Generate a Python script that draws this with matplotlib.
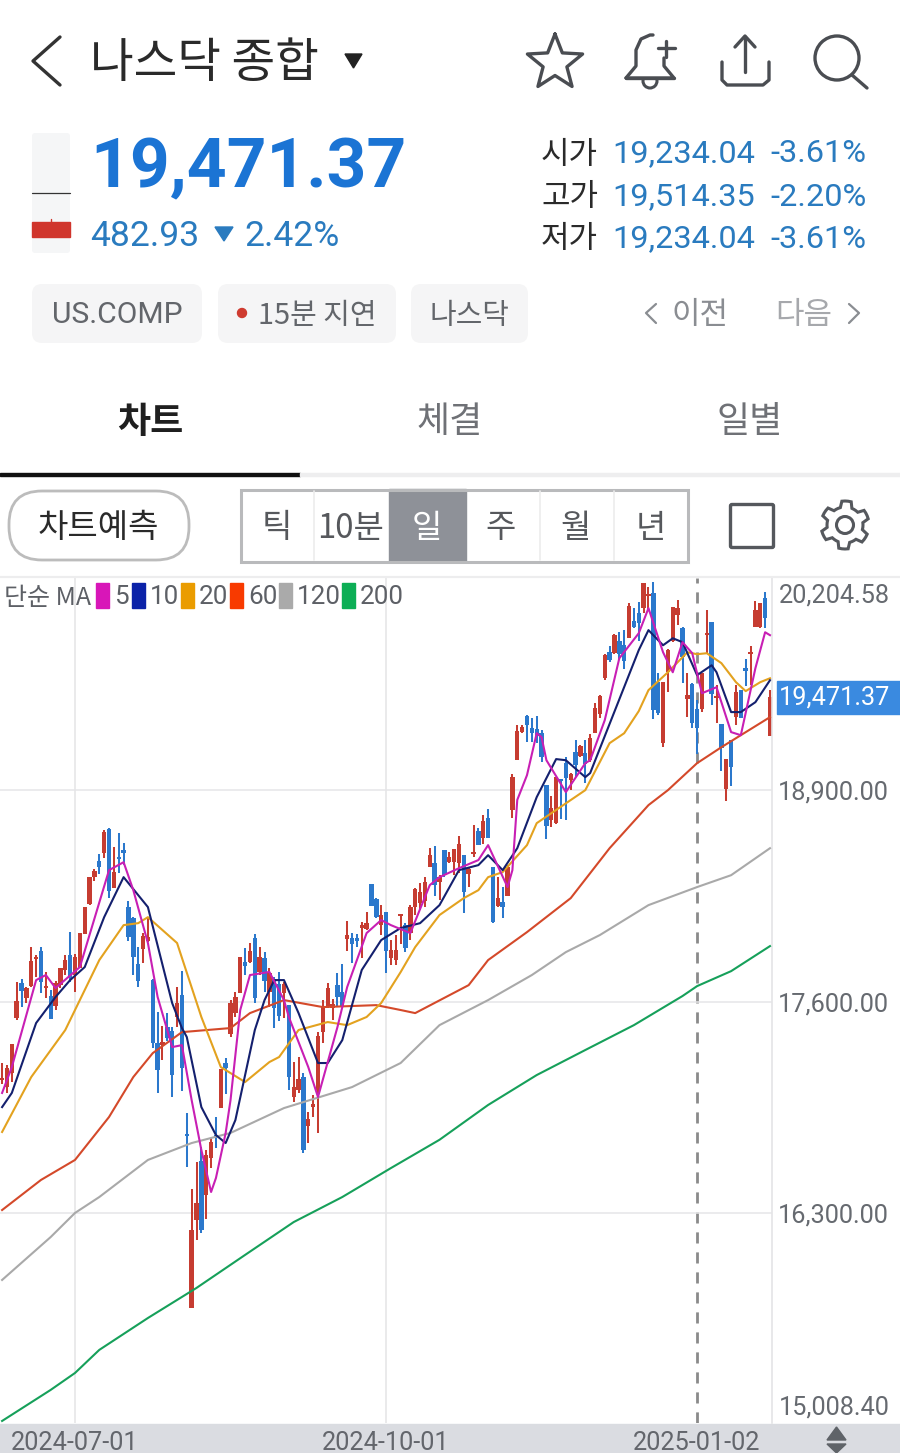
#!/usr/bin/env python3
"""
Nasdaq composite daily candle chart with moving averages, laid out like the
Korean brokerage app screen it comes from.
"""

import numpy as np
import matplotlib
matplotlib.use('Agg')
import matplotlib.pyplot as plt
from matplotlib.patches import Circle, FancyBboxPatch, Polygon, Rectangle

KR = ['Noto Sans CJK KR', 'DejaVu Sans']
NUM = ['Roboto', 'DejaVu Sans']
plt.rcParams['font.family'] = KR

# trading day index, 0 is 2024-07-01
first_day = -15

opens = [
    17117, 17075, 17160, 17498, 17714, 17621, 17695, 17861, 17910, 17683, 17634, 17572, 17701, 17794, 17886,
    17763, 17806, 18015, 18199, 18365, 18464, 18513, 18660, 18298, 18482, 18531, 18181, 18113, 17830, 17923,
    17972, 17732, 17345, 17332, 17443, 17418, 17504, 17640, 16779, 15716, 16257, 16620, 16410, 16638, 16779,
    16945, 17222, 17400, 17529, 17652, 17843, 17843, 17990, 17782, 17867, 17658, 17738, 17708, 17652, 17578,
    17013, 17056, 17136, 16835, 16951, 17056, 17412, 17566, 17560, 17701, 17658, 17984, 17990, 17990, 18052,
    18045, 18322, 18230, 18070, 18150, 17867, 17855, 18125, 18070, 18021, 18181, 18205, 18218, 18427, 18451,
    18335, 18531, 18457, 18457, 18451, 18500, 18384, 18507, 18648, 18605, 18728, 18427, 18187, 18212, 18248,
    18777, 19084, 19257, 19355, 19281, 19275, 19250, 18931, 18716, 18697, 18968, 19066, 18961, 19134, 19109,
    19127, 19084, 19250, 19367, 19588, 19748, 19742, 19816, 19791, 19834, 19939, 19988, 20019, 20092, 20111,
    19564, 19189, 19625, 19816, 19976, 19896, 19459, 19552, 19398, 19398, 19853, 19933, 19466, 19306, 18906,
    19207, 19349, 19515, 19650, 19736, 19902, 19902, 20080, 19234,
]
highs = [
    17222, 17210, 17339, 17720, 17738, 17689, 17935, 17886, 17935, 17782, 17671, 17726, 17806, 17886, 18027,
    17892, 18021, 18181, 18365, 18414, 18507, 18654, 18666, 18550, 18636, 18574, 18218, 18119, 17935, 18021,
    18113, 17738, 17535, 17449, 17529, 17443, 17689, 17787, 16914, 16447, 16613, 16705, 16687, 16761, 16890,
    17185, 17252, 17609, 17658, 17873, 17929, 17960, 18015, 17935, 17904, 17806, 17751, 17782, 17720, 17578,
    17228, 17259, 17160, 16921, 17025, 17412, 17609, 17714, 17615, 17775, 17830, 18095, 18021, 18015, 18089,
    18150, 18322, 18236, 18193, 18150, 17978, 18009, 18138, 18082, 18193, 18298, 18328, 18365, 18543, 18556,
    18377, 18531, 18519, 18537, 18617, 18500, 18427, 18685, 18666, 18746, 18783, 18427, 18365, 18304, 18439,
    18998, 19300, 19300, 19361, 19343, 19355, 19269, 18931, 18863, 18980, 18968, 19103, 19005, 19207, 19177,
    19207, 19244, 19435, 19484, 19736, 19785, 19859, 19871, 19884, 20050, 20019, 20056, 20172, 20148, 20178,
    19619, 19564, 19767, 20025, 20068, 19902, 19619, 19558, 19453, 19619, 20006, 19933, 19545, 19306, 19091,
    19207, 19545, 19515, 19705, 19785, 20062, 20050, 20117, 19514,
]
lows = [
    17093, 17038, 17105, 17486, 17566, 17590, 17689, 17751, 17652, 17621, 17492, 17548, 17683, 17763, 17720,
    17658, 17806, 18015, 18193, 18341, 18384, 18482, 18236, 18298, 18390, 18439, 17972, 17763, 17689, 17837,
    17966, 17314, 17038, 17240, 17357, 17013, 17443, 17050, 16583, 15716, 16134, 16177, 16263, 16576, 16699,
    16945, 17031, 17382, 17505, 17652, 17763, 17837, 17590, 17763, 17658, 17566, 17437, 17480, 17498, 17056,
    16982, 17038, 16668, 16730, 16890, 16791, 17345, 17560, 17486, 17566, 17566, 17910, 17837, 17935, 17867,
    18039, 18187, 18113, 18009, 17775, 17824, 17824, 17953, 17904, 17978, 18132, 18162, 18181, 18427, 18248,
    18224, 18365, 18451, 18377, 18390, 18144, 18304, 18488, 18562, 18568, 18605, 18082, 18181, 18113, 18248,
    18728, 19084, 19250, 19195, 19195, 19189, 19072, 18599, 18673, 18691, 18722, 18716, 18900, 18980, 19103,
    18943, 19072, 19250, 19343, 19576, 19687, 19736, 19699, 19644, 19834, 19896, 19816, 19988, 20000, 19336,
    19361, 19164, 19502, 19810, 19914, 19558, 19349, 19281, 19121, 19379, 19742, 19422, 19312, 19017, 18832,
    18925, 19300, 19343, 19539, 19545, 19902, 19896, 19896, 19232,
]
closes = [
    17130, 17190, 17339, 17603, 17665, 17683, 17849, 17868, 17720, 17689, 17492, 17714, 17806, 17855, 17745,
    17874, 18021, 18181, 18365, 18402, 18427, 18642, 18279, 18396, 18476, 18513, 17996, 17873, 17726, 18003,
    17996, 17345, 17179, 17351, 17375, 17148, 17590, 17191, 16773, 16195, 16361, 16195, 16656, 16736, 16767,
    17185, 17191, 17590, 17628, 17873, 17818, 17910, 17621, 17873, 17726, 17775, 17560, 17511, 17708, 17136,
    17074, 17123, 16687, 16878, 16970, 17388, 17566, 17683, 17584, 17628, 17572, 18009, 17953, 17972, 18070,
    18082, 18187, 18119, 18132, 17910, 17916, 17916, 18138, 17929, 18181, 18291, 18273, 18335, 18500, 18316,
    18365, 18377, 18488, 18537, 18568, 18273, 18414, 18519, 18562, 18709, 18605, 18089, 18236, 18181, 18427,
    18980, 19263, 19287, 19300, 19250, 19232, 19103, 18679, 18789, 18980, 18955, 18974, 18998, 19054, 19170,
    19060, 19220, 19404, 19478, 19730, 19699, 19853, 19736, 19693, 20031, 19902, 19927, 20172, 20105, 19392,
    19373, 19564, 19761, 20025, 20019, 19718, 19484, 19312, 19281, 19619, 19865, 19490, 19478, 19158, 19091,
    19041, 19502, 19343, 19632, 19748, 20006, 20050, 19957, 19471.37,
]

ma5_days = [-15, -13, -8, -6, -4, 1, 7, 10, 12, 15, 17, 20, 22, 24, 26, 28, 29, 31, 32, 34, 36, 40, 43, 44, 48, 50,
            54, 56, 60, 63, 65, 69, 73, 75, 79, 83, 85, 89, 90, 91, 93, 95, 96, 97, 101, 105, 106, 109, 112, 116,
            118, 121, 123, 125, 127, 129, 132, 135, 137, 140, 142, 143]
ma5 = [17038, 17197, 17732, 17763, 17683, 17812, 18408, 18457, 18285, 17960, 17628, 17320, 17332, 16994, 16687,
       16429, 16515, 16792, 16994, 17548, 17763, 17782, 17609, 17505, 17197, 17013, 17443, 17689, 18021, 18101,
       18070, 18021, 18316, 18365, 18420, 18470, 18562, 18304, 18408, 18840, 18992, 19250, 19226, 19084, 18888,
       19066, 19084, 19330, 19711, 19865, 20019, 19748, 19625, 19810, 19742, 19496, 19533, 19257, 19238, 19650,
       19871, 19853]

ma10_days = [-15, -13, -8, -4, -1, 2, 6, 10, 15, 20, 22, 23, 26, 29, 31, 33, 37, 39, 41, 43, 46, 50, 52, 55, 59, 63,
             67, 71, 75, 79, 83, 85, 88, 91, 95, 99, 101, 105, 106, 116, 118, 121, 123, 125, 128, 131, 132, 135,
             137, 140, 143]
ma10 = [16951, 17038, 17468, 17628, 17732, 17812, 18119, 18365, 18181, 17590, 17437, 17382, 16951, 16779, 16730,
        16871, 17425, 17609, 17732, 17732, 17529, 17222, 17222, 17363, 17794, 17978, 18052, 18082, 18193, 18408,
        18439, 18500, 18408, 18543, 18857, 19091, 19084, 18980, 19005, 19761, 19884, 19791, 19834, 19810, 19607,
        19668, 19625, 19380, 19380, 19441, 19576]

ma20_days = [-15, -9, -2, 5, 10, 13, 15, 21, 26, 30, 35, 40, 42, 46, 52, 56, 60, 63, 67, 70, 75, 80, 83, 85, 88, 93,
             95, 105, 110, 113, 116, 118, 122, 126, 128, 130, 133, 136, 138, 141, 143]
ma20 = [16798, 17136, 17425, 17855, 18070, 18082, 18119, 17960, 17505, 17197, 17105, 17228, 17259, 17425, 17474,
        17455, 17505, 17591, 17781, 17935, 18132, 18236, 18285, 18365, 18396, 18562, 18697, 18900, 19189, 19250,
        19386, 19515, 19625, 19748, 19736, 19742, 19681, 19564, 19509, 19564, 19588]

ma60_days = [-15, -7, 0, 7, 12, 16, 22, 32, 36, 43, 51, 62, 67, 70, 81, 85, 93, 102, 110, 118, 122, 128, 133, 137, 143]
ma60 = [16318, 16503, 16626, 16890, 17136, 17283, 17412, 17437, 17529, 17609, 17566, 17578, 17548, 17529, 17701,
        17855, 18027, 18236, 18543, 18808, 18900, 19066, 19164, 19238, 19349]

ma120_days = [-15, -5, 0, 5, 15, 24, 32, 43, 57, 67, 75, 85, 94, 101, 108, 118, 128, 135, 143]
ma120 = [15888, 16152, 16300, 16398, 16626, 16730, 16792, 16945, 17074, 17222, 17455, 17609, 17763, 17904, 18009,
         18193, 18304, 18377, 18543]

ma200_days = [-15, -5, 0, 5, 15, 25, 35, 45, 55, 65, 75, 85, 95, 105, 115, 125, 128, 135, 143]
ma200 = [15021, 15212, 15316, 15458, 15654, 15839, 16042, 16244, 16398, 16576, 16750, 16964, 17148, 17302, 17455,
         17634, 17695, 17787, 17941]

date_days = [0, 64, 128]
date_labels = ['2024-07-01', '2024-10-01', '2025-01-02']
price_ticks = [18900, 17600, 16300]
price_top = 20204.58
price_bottom = 15008.40

ma_names = ['5', '10', '20', '60', '120', '200']
ma_colors = ['#c81fb4', '#14206e', '#e3a21f', '#d4492a', '#a9a9a9', '#16a05a']
swatch_colors = ['#d816b8', '#0b22a8', '#ea9c00', '#f83a00', '#aaaaaa', '#0cae55']

UP = '#c63c31'
DOWN = '#2b78cc'
W, H = 900, 1453

fig = plt.figure(figsize=(W / 100, H / 100), dpi=100, facecolor='white')
fig.add_artist(Rectangle((0, 0), 1, (H - 1424) / H, transform=fig.transFigure, color='#dadce1', zorder=-1))

# chart area, pixel box 0..772 x 578..1423
ax = fig.add_axes([0, (H - 1423) / H, 772 / W, (1423 - 578) / H], zorder=1)
ax.set_xlim(-75 / 4.86, 697 / 4.86)
ax.set_ylim(price_bottom, price_top)
for side in ('top', 'left', 'bottom'):
    ax.spines[side].set_visible(False)
ax.spines['right'].set_color('#e4e4e6')
ax.spines['right'].set_linewidth(1.2)

ax.yaxis.tick_right()
ax.set_yticks(price_ticks)
ax.set_yticklabels([f'{v:,.2f}' for v in price_ticks], family=NUM, fontsize=18.2, color='#666a70')
ax.set_xticks(date_days)
ax.set_xticklabels(date_labels, family=NUM, fontsize=18.2, color='#63666c')
ax.tick_params(axis='both', length=0)
ax.tick_params(axis='y', pad=4.5)
ax.tick_params(axis='x', pad=5.5)
ax.grid(axis='y', color='#e6e6e8', linewidth=1.1)
ax.set_axisbelow(True)
ax.axvline(date_days[0], color='#e4e4e6', linewidth=1.1, zorder=0)
ax.axvline(date_days[1], color='#e4e4e6', linewidth=1.1, zorder=0)
ax.axvline(date_days[2], color='#8a8a8a', linewidth=2, linestyle=(0, (4, 3.2)), zorder=0.5)

days = np.arange(first_day, first_day + len(closes))
o, h, l, c = map(np.array, (opens, highs, lows, closes))
cols = np.where(c >= o, UP, DOWN)
ax.vlines(days, l, h, colors=cols, linewidth=1.45, zorder=2)
ax.bar(days, np.maximum(np.abs(c - o), 12), bottom=np.minimum(o, c), width=0.9, color=cols, linewidth=0, zorder=2)

all_mas = [(ma200_days, ma200), (ma120_days, ma120), (ma60_days, ma60),
           (ma20_days, ma20), (ma10_days, ma10), (ma5_days, ma5)]
for (x_days, vals), col in zip(all_mas, ma_colors[::-1]):
    ax.plot(x_days, vals, color=col, linewidth=1.5, zorder=3, solid_joinstyle='round')

# screen furniture in plain pixel coordinates
ui = fig.add_axes([0, 0, 1, 1], zorder=2)
ui.set_xlim(0, W)
ui.set_ylim(H, 0)
ui.axis('off')
ui.patch.set_alpha(0)


def label(x, y, s, size, color='#333333', ha='left', family=KR, weight='normal'):
    # both fonts sit a little high with va=center
    y = y + (3 if family is KR else 2)
    ui.text(x, y, s, fontsize=size * 0.72, color=color, ha=ha, va='center', family=family, weight=weight)


def stroke(xs, ys, color='#4a4d52', lw=2.2):
    ui.plot(xs, ys, color=color, linewidth=lw, solid_capstyle='round', solid_joinstyle='round')


def chip(x0, x1, y0, y1, pad, face='#f5f5f6', edge='none', lw=0):
    ui.add_patch(FancyBboxPatch((x0 + pad, y0 + pad), x1 - x0 - 2 * pad, y1 - y0 - 2 * pad,
                                boxstyle=f'round,pad={pad}', facecolor=face, edgecolor=edge, linewidth=lw))


# top bar
stroke([60, 33, 60], [37, 61, 85], color='#333333', lw=2.4)
label(90, 60, '나스닥 종합', 47.5, color='#2a2a2a', weight='medium')
ui.add_patch(Polygon([(345, 54), (362, 54), (353.5, 68)], color='#222222'))

angles = np.deg2rad(np.arange(-90, 630, 36))[:11]
radii = np.where(np.arange(11) % 2 == 0, 29, 12.5)
stroke(555 + radii * np.cos(angles), 63 + radii * np.sin(angles), lw=2.4)

bell_x = [626, 636, 636, 641, 650, 653]
bell_y = [78, 66, 50, 39, 35, 35]
stroke(bell_x, bell_y, lw=2.4)
stroke([626, 674, 664, 664], [78, 78, 66, 58], lw=2.4)
ui.add_patch(Circle((650, 81), 7, facecolor='none', edgecolor='#4a4d52', linewidth=2.2, zorder=1))
ui.add_patch(Rectangle((640, 72), 20, 6, color='white', zorder=1.5))
stroke([626, 674], [78, 78], lw=2.4)
stroke([666, 666], [41, 57], lw=2.4)
stroke([658, 675], [48, 48], lw=2.4)

stroke([745, 745], [38, 72], lw=2.4)
stroke([735, 745, 755], [47, 36, 47], lw=2.4)
stroke([722, 722, 727, 763, 769, 769], [62, 80, 85, 85, 80, 62], lw=2.4)

ui.add_patch(Circle((837, 58), 22, facecolor='none', edgecolor='#4a4d52', linewidth=2.4))
stroke([852, 867], [75, 88], lw=2.4)

# quote block
ui.add_patch(FancyBboxPatch((35, 136), 32, 114, boxstyle='round,pad=3', facecolor='#f5f6f7', edgecolor='none'))
stroke([32, 70], [193, 193], color='#333333', lw=0.9)
ui.add_patch(Rectangle((32, 222), 38, 15, color='#d0352c'))
stroke([51, 51], [219, 222], color='#d0352c', lw=1)

label(90.5, 167, '19,471.37', 69.5, color='#1b74d4', family=NUM, weight='bold')
label(90, 234, '482.93', 35.5, color='#2a7bbf', family=NUM)
ui.add_patch(Polygon([(215, 227), (233, 227), (224, 241)], color='#2a7bbf'))
label(244, 234, '2.42%', 35.5, color='#2a7bbf', family=NUM)

rows = [('시가', '19,234.04', '-3.61%'), ('고가', '19,514.35', '-2.20%'), ('저가', '19,234.04', '-3.61%')]
for y, (name, val, pct) in zip((152, 195, 237), rows):
    label(541, y, name, 31, color='#2a2a2a')
    label(612.5, y, val, 32.5, color='#2a7bbf', family=NUM)
    label(770, y, pct, 32.5, color='#2a7bbf', family=NUM)

# chips and prev / next
for x0, x1 in ((32, 202), (218, 396), (411, 528)):
    chip(x0, x1, 284, 343, 10)
label(117, 313, 'US.COMP', 30, color='#63666b', ha='center', family=NUM)
ui.add_patch(Circle((242, 313), 4.5, color='#cf3b30'))
label(258, 313, '15분 지연', 29, color='#63666b')
label(469, 313, '나스닥', 29, color='#63666b', ha='center')
stroke([656, 646, 656], [304, 313, 323], color='#8a8d92', lw=1.6)
label(700, 313, '이전', 31, color='#8a8d92', ha='center')
label(804, 313, '다음', 31, color='#a6a8ac', ha='center')
stroke([849, 859, 849], [304, 313, 323], color='#8a8d92', lw=1.6)

# tabs
label(150, 419, '차트', 36, color='#1f1f1f', ha='center', weight='bold')
label(450, 419, '체결', 36, color='#6f7176', ha='center')
label(750, 419, '일별', 36, color='#6f7176', ha='center')
ui.add_patch(Rectangle((0, 473), 300, 3, color='#111111'))
ui.add_patch(Rectangle((300, 473), 600, 3, color='#eeeeef'))

# period selector row
chip(9, 189, 491, 560, 33, face='white', edge='#bcbcbc', lw=2)
label(98, 525, '차트예측', 33, color='#2a2a2a', ha='center')
ui.add_patch(Rectangle((389, 489), 77, 73, color='#8e9198'))
for xd in (314, 540, 614):
    stroke([xd, xd], [491, 560], color='#ececec', lw=1.2)
ui.add_patch(Rectangle((241, 490), 447, 72, facecolor='none', edgecolor='#b9babc', linewidth=2.2))
periods = [(277, '틱', '#56585c'), (351, '10분', '#56585c'), (427, '일', 'white'),
           (501, '주', '#56585c'), (576, '월', '#56585c'), (651, '년', '#56585c')]
for xp, name, col in periods:
    label(xp, 525, name, 33, color=col, ha='center')

ui.add_patch(FancyBboxPatch((732, 506), 40, 40, boxstyle='round,pad=1.5', facecolor='none',
                            edgecolor='#55585d', linewidth=2.4))

teeth = np.deg2rad(np.arange(0, 360, 7.5))
gear_r = np.where((np.arange(48) + 2) % 8 < 4, 24, 18)
ui.add_patch(Polygon(np.column_stack([845 + gear_r * np.sin(teeth), 525 + gear_r * np.cos(teeth)]),
                     facecolor='none', edgecolor='#55585d', linewidth=2.2))
ui.add_patch(Circle((845, 525), 8.5, facecolor='none', edgecolor='#55585d', linewidth=2.2))

# chart header and legend
stroke([0, 900], [577, 577], color='#ededee', lw=1.6)
label(4, 595, '단순 MA', 25, color='#5d6066')
swatch_x = [96, 132, 181, 230, 279, 342]
for xs, name, col in zip(swatch_x, ma_names, swatch_colors):
    ui.add_patch(Rectangle((xs, 583), 13, 25, color=col))
    label(xs + 18, 595, name, 26, color='#5d6066', family=NUM)

# price scale extras
label(778.5, 593, f'{price_top:,.2f}', 25.3, color='#666a70', family=NUM)
label(778.5, 1406, f'{price_bottom:,.2f}', 25.3, color='#666a70', family=NUM)
ui.add_patch(Rectangle((777, 681), 123, 33, color='#3a8ae0'))
label(778.5, 695, f'{closes[-1]:,.2f}', 25.3, color='white', family=NUM)

ui.add_patch(Polygon([(827, 1440), (846, 1440), (836.5, 1427)], color='#5f6368'))
ui.add_patch(Polygon([(827, 1444), (846, 1444), (836.5, 1453)], color='#5f6368'))

fig.savefig('out.png', dpi=100)
